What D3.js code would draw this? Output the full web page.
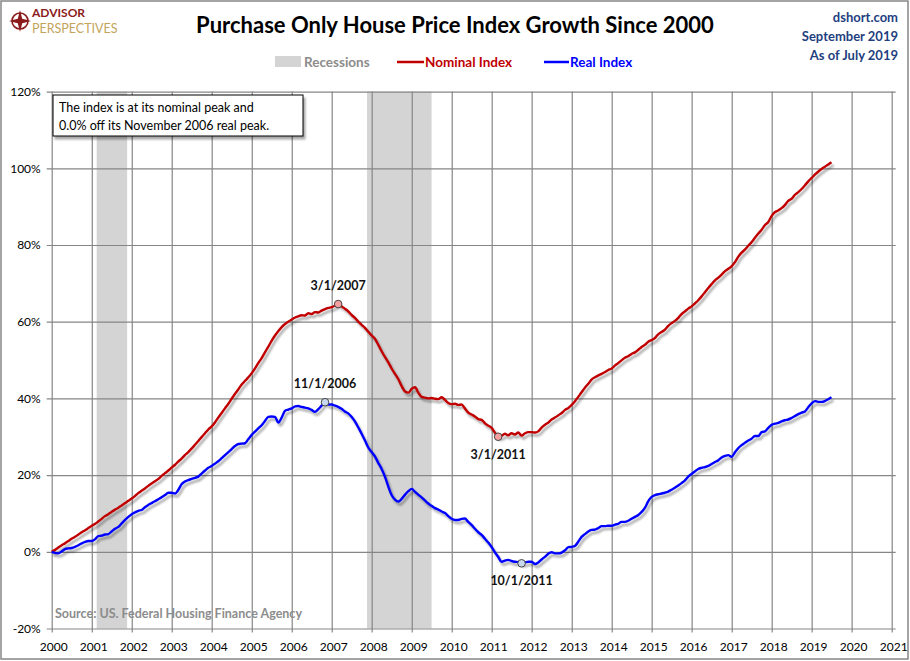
<!DOCTYPE html>
<html>
<head>
<meta charset="utf-8">
<script src="https://cdn.jsdelivr.net/npm/d3@7"></script>
<style>
  body { margin: 0; background: #fff; }
  svg { display: block; font-family: Lato, "Open Sans", sans-serif; }
</style>
</head>
<body>
<div id="chart"></div>
<script>
// monthly values, Jan 2000 .. Jul 2019, % growth since Jan 2000
var startMonth = new Date(2000, 0, 1);

var nominal = [
  0.0, 0.5, 1.1, 1.7, 2.2, 2.8, 3.4, 3.9, 4.5, 5.1, 5.6, 6.2,
  6.8, 7.3, 7.9, 8.6, 9.3, 9.8, 10.4, 11.0, 11.5, 12.1, 12.7, 13.3,
  13.9, 14.6, 15.3, 15.9, 16.5, 17.2, 17.8, 18.4, 19.0, 19.8, 20.5, 21.2,
  22.0, 22.7, 23.5, 24.3, 25.2, 26.0, 26.9, 27.9, 28.9, 29.9, 30.9, 31.9,
  32.7, 33.8, 35.0, 36.2, 37.4, 38.6, 39.9, 41.2, 42.4, 43.6, 44.6, 45.5,
  46.6, 47.9, 49.2, 50.5, 52.0, 53.5, 55.0, 56.4, 57.6, 58.6, 59.4, 60.0,
  60.6, 61.1, 61.4, 61.7, 61.6, 62.2, 62.0, 62.5, 62.4, 62.9, 63.3, 63.6,
  63.8, 64.2, 64.6, 64.0, 63.4, 62.7, 61.8, 61.0, 60.0, 59.2, 58.4, 57.4,
  56.4, 55.5, 54.0, 52.3, 50.8, 49.4, 47.8, 46.4, 45.0, 43.2, 41.8, 41.5,
  42.5, 42.9, 41.5, 40.4, 40.2, 40.0, 40.1, 39.9, 39.8, 40.3, 39.6, 38.8,
  38.5, 38.6, 38.3, 38.4, 37.4, 36.3, 35.8, 35.3, 34.6, 34.4, 33.5, 32.9,
  32.3, 31.0, 30.0, 30.2, 30.8, 30.4, 30.9, 30.6, 31.1, 30.3, 30.9, 31.2,
  31.2, 31.1, 31.4, 32.4, 33.1, 33.7, 34.5, 35.0, 35.6, 36.2, 37.0, 37.5,
  38.3, 39.3, 40.4, 41.6, 42.8, 43.8, 44.9, 45.5, 46.0, 46.4, 46.9, 47.4,
  47.8, 48.6, 49.2, 49.9, 50.6, 51.0, 51.6, 52.0, 52.7, 53.4, 54.0, 54.8,
  55.2, 55.8, 56.7, 57.3, 57.9, 58.9, 59.6, 60.2, 61.0, 62.0, 62.7, 63.4,
  64.0, 64.8, 65.6, 66.6, 67.7, 68.8, 69.8, 70.8, 71.5, 72.3, 73.2, 73.8,
  74.5, 75.6, 76.9, 78.0, 78.8, 79.8, 80.7, 81.9, 83.0, 84.0, 85.2, 86.0,
  87.6, 88.6, 89.0, 89.6, 90.4, 91.5, 92.0, 93.1, 93.8, 94.6, 95.6, 96.6,
  97.5, 98.4, 99.1, 99.8, 100.4, 101.0, 101.6
];

var real = [
  0.0, -0.3, -0.4, 0.1, 0.7, 0.9, 1.0, 1.3, 1.7, 2.2, 2.6, 2.8,
  2.8, 3.3, 4.1, 4.2, 4.5, 4.6, 5.3, 6.0, 6.5, 7.4, 8.3, 9.1,
  9.8, 10.3, 10.7, 10.9, 11.6, 12.2, 12.7, 13.2, 13.7, 14.2, 14.8, 15.4,
  15.4, 15.2, 16.1, 17.6, 18.3, 18.7, 19.0, 19.3, 19.6, 20.4, 21.2, 21.9,
  22.4, 23.0, 23.6, 24.4, 25.2, 26.0, 26.8, 27.6, 28.1, 28.2, 28.3, 29.4,
  30.5, 31.4, 32.2, 33.0, 34.1, 35.2, 35.3, 35.2, 33.7, 35.0, 36.8, 37.1,
  37.4, 37.9, 38.0, 37.8, 37.6, 37.4, 37.0, 36.5, 37.2, 38.1, 39.0, 38.4,
  38.4, 38.1, 37.8, 37.3, 36.6, 36.1, 35.2, 34.0, 32.4, 30.8, 29.0, 27.2,
  26.0, 24.8, 23.2, 21.6, 19.6, 17.0, 14.8, 13.6, 13.1, 13.8, 14.9, 15.8,
  16.4, 15.6, 14.9, 14.2, 13.4, 12.6, 12.0, 11.4, 11.0, 10.5, 10.1, 9.3,
  8.6, 8.3, 8.3, 8.6, 8.7, 7.8, 7.0, 6.0, 5.1, 4.4, 3.4, 2.4,
  1.2, -0.2, -1.3, -2.6, -2.3, -2.1, -2.4, -2.6, -2.7, -3.0, -2.8, -2.6,
  -2.6, -3.2, -2.8, -2.0, -1.3, -0.5, -0.1, -0.4, -0.4, -0.2, 0.4, 1.2,
  1.3, 1.6, 2.6, 3.9, 4.6, 5.3, 5.7, 5.8, 6.2, 6.7, 6.7, 6.8,
  6.8, 7.1, 7.3, 7.8, 7.8, 8.1, 8.6, 9.1, 9.6, 10.4, 11.5, 13.2,
  14.3, 14.8, 15.0, 15.2, 15.4, 15.7, 16.2, 16.7, 17.3, 17.9, 18.6, 19.6,
  20.3, 21.0, 21.6, 21.9, 22.1, 22.4, 22.9, 23.4, 23.9, 24.6, 25.0, 25.2,
  24.8, 26.0, 27.0, 27.8, 28.4, 29.0, 29.5, 30.2, 30.2, 31.2, 31.4, 32.3,
  33.1, 33.4, 33.6, 34.0, 34.3, 34.5, 34.9, 35.4, 35.9, 36.3, 36.6, 37.7,
  38.7, 39.3, 39.1, 39.1, 39.3, 39.8, 40.3
];

var recessions = [
  ["2001-02-15", "2001-11-20"],
  ["2007-11-20", "2009-07-01"]
];

var yTicks = [-20, 0, 20, 40, 60, 80, 100, 120];
var xYears = d3.range(2000, 2022);

// peak / trough call-outs: [series, date, label, label dy]
var callouts = [
  ["nominal", "2007-03-01", "3/1/2007", -14],
  ["real", "2006-11-01", "11/1/2006", -14],
  ["nominal", "2011-03-01", "3/1/2011", 22],
  ["real", "2011-10-01", "10/1/2011", 22]
];

var W = 910, H = 661;
var margin = {left: 51.7, right: 18.3, top: 91.6, bottom: 32.5};

var parse = d3.timeParse("%Y-%m-%d");
var months = nominal.map(function (d, i) { return d3.timeMonth.offset(startMonth, i); });

var x = d3.scaleTime()
    .domain([new Date(2000, 0, 1), new Date(2021, 0, 1)])
    .range([margin.left, W - margin.right]);
var y = d3.scaleLinear()
    .domain([-20, 120])
    .range([H - margin.bottom, margin.top]);

var svg = d3.select("#chart").append("svg")
    .attr("width", W)
    .attr("height", H);

var defs = svg.append("defs");
var shadow = defs.append("filter").attr("id", "shadow")
    .attr("x", "-10%").attr("y", "-10%").attr("width", "130%").attr("height", "130%");
shadow.append("feGaussianBlur").attr("in", "SourceAlpha").attr("stdDeviation", 1.3);
shadow.append("feOffset").attr("dx", 2).attr("dy", 2.5).attr("result", "off");
shadow.append("feComponentTransfer").append("feFuncA").attr("type", "linear").attr("slope", 0.35);
var merge = shadow.append("feMerge");
merge.append("feMergeNode");
merge.append("feMergeNode").attr("in", "SourceGraphic");

// outer frame
svg.append("rect")
    .attr("x", 1).attr("y", 1)
    .attr("width", W - 3).attr("height", H - 3)
    .attr("fill", "#fff")
    .attr("stroke", "#868686")
    .attr("stroke-width", 1.5);

// recession bands
svg.append("g").selectAll("rect")
    .data(recessions)
    .join("rect")
    .attr("x", function (d) { return x(parse(d[0])); })
    .attr("width", function (d) { return x(parse(d[1])) - x(parse(d[0])); })
    .attr("y", y(120))
    .attr("height", y(-20) - y(120))
    .attr("fill", "#d4d4d4");

// grid
var yAxis = d3.axisLeft(y)
    .tickValues(yTicks)
    .tickSize(-(W - margin.left - margin.right) - 9)
    .tickPadding(6)
    .tickFormat(function (d) { return d + "%"; });
var gy = svg.append("g")
    .attr("transform", "translate(" + (margin.left - 5) + ",0)")
    .call(yAxis);

var xAxis = d3.axisBottom(x)
    .tickValues(xYears.map(function (yr) { return new Date(yr, 0, 1); }))
    .tickSize(-(y(-20) - y(120)) - 4)
    .tickPadding(10)
    .tickFormat(d3.timeFormat("%Y"));
var gx = svg.append("g")
    .attr("transform", "translate(0," + (y(-20) + 4) + ")")
    .call(xAxis);

[gx, gy].forEach(function (g) {
  g.select(".domain").remove();
  g.selectAll(".tick line").attr("stroke", "#868686").attr("stroke-width", 1.2);
  g.selectAll(".tick text").attr("fill", "#000").attr("font-size", 12)
      .attr("font-family", "Lato, sans-serif");
});
gx.selectAll(".tick text").attr("dx", 1.5);

// series
var line = d3.line()
    .x(function (d, i) { return x(months[i]); })
    .y(function (d) { return y(d); })
    .curve(d3.curveMonotoneX);

var series = {nominal: nominal, real: real};
svg.append("path").datum(nominal)
    .attr("d", line).attr("fill", "none")
    .attr("stroke", "#c00000").attr("stroke-width", 2.4)
    .attr("stroke-linejoin", "round")
    .attr("filter", "url(#shadow)");
svg.append("path").datum(real)
    .attr("d", line).attr("fill", "none")
    .attr("stroke", "#0000ff").attr("stroke-width", 2.4)
    .attr("stroke-linejoin", "round")
    .attr("filter", "url(#shadow)");

// call-outs
callouts.forEach(function (c) {
  var dt = parse(c[1]);
  var idx = d3.timeMonth.count(startMonth, dt);
  var v = series[c[0]][idx];
  var cx = x(dt), cy = y(v);
  svg.append("circle")
      .attr("cx", cx).attr("cy", cy).attr("r", 3.8)
      .attr("fill", c[0] === "nominal" ? "#f4a0a0" : "#c8d8ee")
      .attr("stroke", "#444").attr("stroke-width", 1);
  svg.append("text")
      .attr("x", cx).attr("y", cy + c[3])
      .attr("text-anchor", "middle")
      .attr("font-size", 12.5).attr("font-weight", "bold")
      .attr("fill", "#111")
      .text(c[2]);
});

// note box
var note = svg.append("g").attr("transform", "translate(53,95)");
note.append("rect")
    .attr("width", 250).attr("height", 41)
    .attr("fill", "#fff").attr("stroke", "#000").attr("stroke-width", 1)
    .attr("filter", "url(#shadow)");
note.append("text").attr("x", 6).attr("y", 17).attr("font-size", 12.5)
    .text("The index is at its nominal peak and");
note.append("text").attr("x", 6).attr("y", 35).attr("font-size", 12.5)
    .text("0.0% off its November 2006 real peak.");

// source
svg.append("text")
    .attr("x", 55).attr("y", 618)
    .attr("font-size", 12.5).attr("font-weight", "bold")
    .attr("fill", "#8c8c8c")
    .text("Source: US. Federal Housing Finance Agency");

// title
svg.append("text")
    .attr("x", 455).attr("y", 33)
    .attr("text-anchor", "middle")
    .attr("font-size", 22).attr("font-weight", "bold")
    .attr("fill", "#000")
    .text("Purchase Only House Price Index Growth Since 2000");

// top-right info
["dshort.com", "September 2019", "As of July 2019"].forEach(function (t, i) {
  svg.append("text")
      .attr("x", 898).attr("y", 22 + i * 19)
      .attr("text-anchor", "end")
      .attr("font-size", 13).attr("font-weight", "bold")
      .attr("fill", "#1f3f7f")
      .text(t);
});

// legend
var lg = svg.append("g").attr("font-size", 13.5).attr("font-weight", "bold");
lg.append("rect").attr("x", 275).attr("y", 56).attr("width", 26).attr("height", 11).attr("fill", "#d4d4d4");
lg.append("text").attr("x", 304).attr("y", 67).attr("fill", "#8c8c8c").text("Recessions");
lg.append("line").attr("x1", 397).attr("x2", 424).attr("y1", 62).attr("y2", 62)
    .attr("stroke", "#c00000").attr("stroke-width", 2.5);
lg.append("text").attr("x", 425).attr("y", 67).attr("fill", "#c00000").text("Nominal Index");
lg.append("line").attr("x1", 544).attr("x2", 569).attr("y1", 62).attr("y2", 62)
    .attr("stroke", "#0000ff").attr("stroke-width", 2.5);
lg.append("text").attr("x", 570).attr("y", 67).attr("fill", "#0000ff").text("Real Index");

// logo
var logo = svg.append("g").attr("transform", "translate(20,21)");
logo.append("circle").attr("r", 8).attr("fill", "none").attr("stroke", "#8b1a1a").attr("stroke-width", 1.6);
logo.append("path")
    .attr("d", "M0,-11 L2.2,-2.2 L11,0 L2.2,2.2 L0,11 L-2.2,2.2 L-11,0 L-2.2,-2.2 Z")
    .attr("fill", "#8b1a1a");
logo.append("text").attr("x", 12).attr("y", -4)
    .attr("font-size", 12).attr("font-weight", "bold").attr("fill", "#8b1a1a")
    .text("ADVISOR");
logo.append("text").attr("x", 12).attr("y", 12)
    .attr("font-size", 12.5).attr("fill", "#c4a45c")
    .text("PERSPECTIVES");
</script>
</body>
</html>
